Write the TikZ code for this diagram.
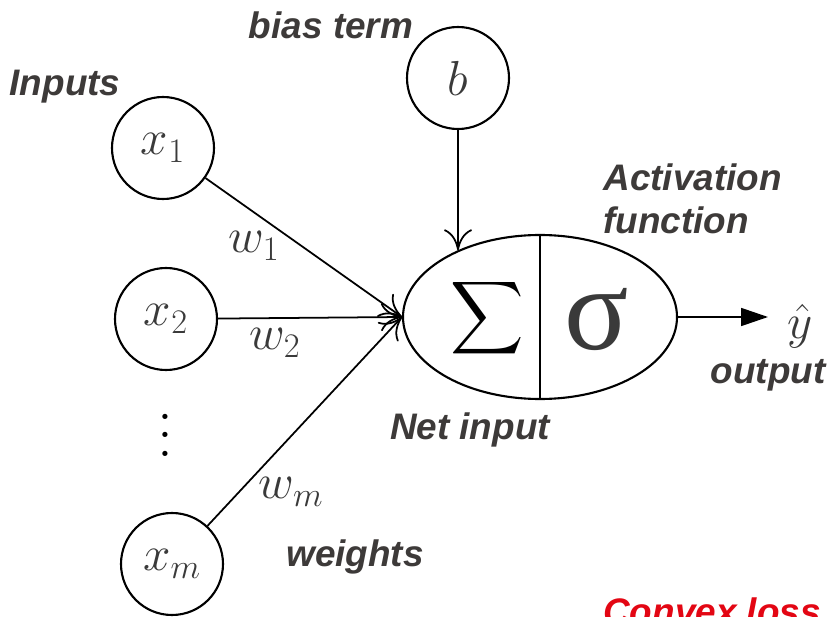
\documentclass[tikz,border=0pt]{standalone}
\usepackage{fix-cm}
\usepackage{amsmath}
\usepackage{graphicx}
\usepackage{fontspec}
\usetikzlibrary{arrows.meta,positioning,shapes.geometric,calc}
\newfontfamily\lblfont{Liberation Sans}
\newfontfamily\sigfont{Liberation Serif}
\definecolor{ctext}{HTML}{3D3A39}
\definecolor{cmath}{HTML}{3A3A3A}
\definecolor{closs}{HTML}{E30613}
\tikzset{
  unit/.style={draw, circle, line width=1.2pt, minimum size=20.4mm, inner sep=0pt, text=cmath, font=\fontsize{28}{34}\selectfont},
  wlbl/.style={text=cmath, font=\fontsize{28}{34}\selectfont, inner sep=0pt},
  lbl/.style={font=\lblfont\bfseries\itshape\fontsize{21}{24.5}\selectfont, text=ctext, inner sep=0pt},
  ar/.style={-{To[length=4.2mm,width=5.6mm]}, line width=1pt},
  outar/.style={-{Triangle[length=5.4mm,width=3.6mm]}, line width=1pt},
}

\begin{document}
\begin{tikzpicture}
\useasboundingbox (0,0) rectangle (16.66,12.32);
% inputs and bias
\node[unit] (x1) at (3.26,9.36) {$x_1$};
\node[unit] (x2) at (3.32,5.94) {$x_2$};
\node[align=center, inner sep=0pt, font=\fontsize{36}{10.5}\selectfont] (dots) at (3.30,3.62) {.\\.\\.};
\node[unit] (xm) at (3.44,1.04) {$x_m$};
\node[unit] (b) at (9.16,10.76) {$b$};
% neuron: net input | activation
\node[draw, ellipse, line width=1.2pt, minimum width=54.8mm, minimum height=32.8mm] (net) at (10.8,5.98) {};
\draw[line width=1.2pt] (net.north) -- (net.south);
\node (sum) at (9.74,5.96) {\scalebox{2.9}{$\displaystyle\sum$}};
\node[text=cmath, font=\sigfont\fontsize{68}{80}\selectfont, inner sep=0pt] (sig) at (11.94,5.92) {σ};
\node[wlbl, anchor=west] (yhat) at (15.74,5.8) {$\hat{y}$};
% connectors
\draw[ar] (x1) -- (net.west);
\draw[ar] (x2) -- (net.west);
\draw[ar] (xm) -- (net.west);
\draw[ar] (b) -- (b |- net.141);
\draw[outar] (net.east) -- ([xshift=-3.8mm]yhat.west |- net.east);
% weights
\node[wlbl] (w1) at (5.08,7.40) {$w_1$};
\node[wlbl] (w2) at (5.50,5.46) {$w_2$};
\node[wlbl] (wm) at (5.82,2.48) {$w_m$};
% labels
\node[lbl] (biasl) at (6.62,11.82) {bias term};
\node[lbl] (inl) at (1.30,10.58) {Inputs};
\node[lbl, align=left, anchor=west] (actl) at (12.06,8.35) {Activation\\function};
\node[lbl] (outl) at (15.36,4.82) {output};
\node[lbl] (netl) at (9.40,3.72) {Net input};
\node[lbl] (wl) at (7.10,1.18) {weights};
\node[lbl, text=closs, anchor=north] (lossl) at (14.24,0.38) {Convex loss};
\end{tikzpicture}
\end{document}
